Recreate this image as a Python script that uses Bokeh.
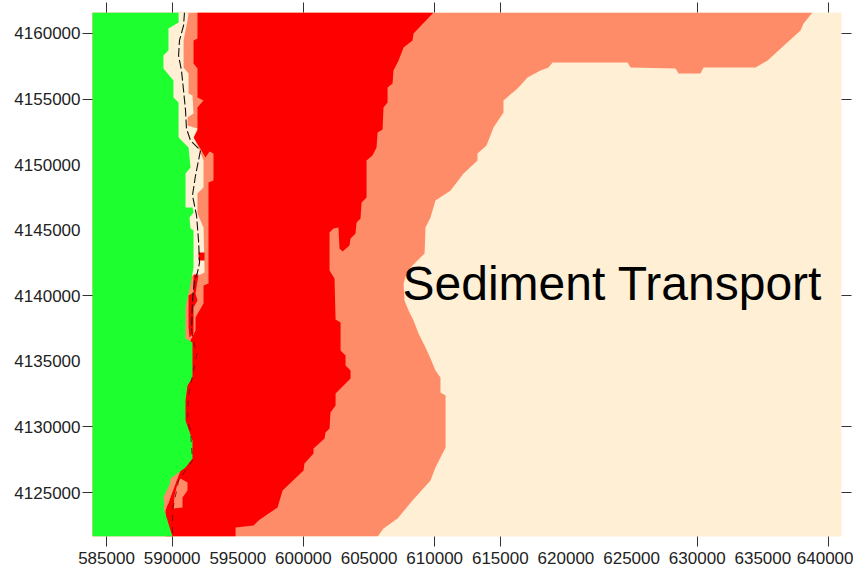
from bokeh.plotting import figure
from bokeh.models import FixedTicker, LinearAxis, Range1d
from bokeh.core.properties import value
from bokeh.embed import file_html
from bokeh.resources import INLINE

title_text = "Sediment Transport"
x_labelled = [585000, 590000, 595000, 600000, 605000, 610000, 615000, 620000, 625000, 630000, 635000, 640000]
y_labelled = [4160000, 4155000, 4150000, 4145000, 4140000, 4135000, 4130000, 4125000]
x_marked = [585000, 590000, 600000, 610000, 615000, 630000, 640000]
y_marked = [4160000, 4155000, 4140000, 4130000, 4125000]

# outer edge of the moderate-transport band (easting, northing)
mod_x = [638780, 638100, 637870, 636190, 635360, 634440, 630480, 630250, 628580, 628350, 624920, 624690, 618980, 618670, 618060, 617070, 616310, 615240, 615240, 614480, 613950, 613260, 613260, 612200, 611210, 610060, 609680, 609300, 609230, 608690, 607930, 607630, 607700, 608010, 608390, 608770, 609300, 609680, 610060, 610440, 610440, 610830, 610830, 610440, 610060, 609680, 608310, 607170, 606100, 605650]
mod_y = [4161600, 4160760, 4160230, 4158700, 4157940, 4157410, 4157410, 4156950, 4156950, 4157330, 4157410, 4157790, 4157790, 4157410, 4157180, 4156650, 4155810, 4154890, 4153980, 4152830, 4151460, 4150850, 4150320, 4149330, 4148030, 4147270, 4145970, 4145210, 4143230, 4142690, 4141930, 4140940, 4139640, 4138880, 4138120, 4137130, 4136060, 4135220, 4134300, 4133770, 4132630, 4132400, 4128430, 4127670, 4126910, 4125920, 4124390, 4123020, 4122260, 4121650]

# outline of the high-transport area
high_x = [609910, 608390, 608310, 607630, 607250, 606860, 606790, 606410, 606410, 606100, 606030, 605650, 605570, 605260, 604810, 604810, 604430, 604350, 604050, 603970, 603590, 603510, 602980, 602750, 602670, 602290, 601990, 601990, 602370, 602450, 602830, 602830, 603210, 603210, 603590, 603590, 602450, 602450, 602060, 601990, 601680, 601610, 600770, 600770, 600080, 600010, 598410, 598030, 596580, 596200, 594830, 594830,
          589500, 589500, 590640, 591020, 591400, 591780, 591780, 592390, 592390, 592770, 592770, 593150, 593150, 592850, 592540, 592010, 591630, 591930, 591930, 592390, 591930, 591930, 591630, 591630, 591930, 591930]
high_y = [4161600, 4160000, 4159470, 4158930, 4157940, 4157180, 4156190, 4155880, 4154740, 4154360, 4152680, 4152450, 4151310, 4150700, 4150320, 4147500, 4147110, 4145890, 4145590, 4144750, 4144370, 4143840, 4143380, 4143610, 4145210, 4145130, 4144830, 4141930, 4141320, 4138190, 4137960, 4135830, 4135450, 4134690, 4134300, 4133690, 4132550, 4131640, 4131100, 4129880, 4129580, 4129120, 4128360, 4127980, 4127210, 4126680, 4125150, 4123860, 4122870, 4122490, 4122330, 4121650,
          4121650, 4123630, 4126680, 4133540, 4136590, 4137350, 4138340, 4139410, 4140780, 4140940, 4148640, 4148790, 4150850, 4151000, 4150540, 4151460, 4152070, 4152600, 4154360, 4154890, 4155120, 4157330, 4157710, 4159470, 4159620, 4161600]

# low-transport strip along the shore
shore_x = [585000, 591250, 591170, 590870, 590870, 591250, 591250, 591550, 591630, 591170, 591170, 591930, 591630, 592010, 592160, 592390, 592390, 591930, 591930, 592390, 592470, 592010, 591020, 585000]
shore_y = [4161600, 4161600, 4160990, 4159470, 4157410, 4156950, 4155430, 4155270, 4153900, 4153600, 4152990, 4152760, 4152070, 4151310, 4150930, 4150320, 4148260, 4147800, 4146280, 4145210, 4141780, 4141550, 4141550, 4141550]

# land
land_x = [583000, 590490, 590490, 589720, 589720, 589340, 589340, 590100, 590100, 590490, 590490, 591250, 591400, 591020, 591020, 591550, 591630, 591320, 591400, 591630, 591630, 591550, 591250, 591020, 591020, 591550, 591550, 591170, 591020, 591020, 591550, 591550, 591020, 589880, 589720, 589340, 589880, 590030, 583000]
land_y = [4161600, 4161600, 4160840, 4160380, 4158700, 4158320, 4157330, 4156420, 4155120, 4154740, 4152070, 4151310, 4149780, 4149330, 4146730, 4146730, 4146350, 4145970, 4145130, 4144980, 4142160, 4141700, 4140180, 4139110, 4136740, 4136440, 4133770, 4133160, 4132020, 4130490, 4128970, 4127590, 4126910, 4126070, 4124930, 4123860, 4122100, 4121650, 4121650]

# small patches at the shore
patch_a_x = [590640, 591170, 591170, 590790, 590790, 590100, 590180, 590410]
patch_a_y = [4126070, 4125760, 4125150, 4124620, 4123860, 4123780, 4124770, 4125690]
patch_b_x = [589880, 590030, 589720, 589420, 589340]
patch_b_y = [4125760, 4125150, 4124160, 4124010, 4124620]
blob_a_x = [591630, 592010, 591780, 591930, 591630, 591630, 591320, 591250, 591250, 591630]
blob_a_y = [4141620, 4141620, 4140180, 4139640, 4139110, 4137130, 4136820, 4137580, 4140020, 4140250]
blob_b_x = [592010, 592470, 592470, 592010]
blob_b_y = [4143300, 4143300, 4142690, 4142690]

# coastline, northern and southern stretches
coast_north_x = [590940, 590870, 590560, 590490, 590710, 590870, 591020, 591090, 591400, 592160, 591780, 591550, 591860, 592010, 592090, 591930, 591700, 591550, 591480]
coast_north_y = [4161600, 4160610, 4159470, 4158320, 4157180, 4155650, 4154130, 4152760, 4151840, 4151080, 4149170, 4147650, 4146120, 4144220, 4142540, 4141780, 4141170, 4139640, 4137350]
coast_south_x = [591480, 591700, 591930, 591630, 591250, 591170, 591400, 591550, 590490, 590030, 590030]
coast_south_y = [4137350, 4136210, 4135830, 4134300, 4132400, 4130490, 4129730, 4127440, 4125920, 4123630, 4121650]

CREAM = "#FFEFD5"
SALMON = "#FF8C69"
RED = "#FF0000"
GREEN = "#1EFF30"
INK = "#222222"

p = figure(frame_width=749, frame_height=524, output_backend="svg", toolbar_location=None,
           x_range=Range1d(583933, 640990), y_range=Range1d(4121645, 4161601),
           x_axis_location=None, y_axis_location=None,
           min_border_left=92, min_border_top=12, min_border_right=12, min_border_bottom=28,
           background_fill_color=CREAM, border_fill_color="white")
p.grid.visible = False
p.outline_line_color = None


def tick_axis(marked):
    ax = LinearAxis(ticker=FixedTicker(ticks=marked))
    ax.axis_line_color = None
    ax.major_tick_in = 0
    ax.major_tick_out = 10
    ax.major_tick_line_color = "#333333"
    ax.minor_tick_line_color = None
    ax.major_label_standoff = 0
    ax.major_label_text_font_size = "1px"
    ax.major_label_overrides = {v: "" for v in marked}
    return ax


def label_axis(labelled, standoff):
    ax = LinearAxis(ticker=FixedTicker(ticks=labelled))
    ax.axis_line_color = None
    ax.major_tick_line_color = None
    ax.minor_tick_line_color = None
    ax.major_tick_in = 0
    ax.major_tick_out = 0
    ax.major_label_standoff = standoff
    ax.major_label_text_font = "Liberation Sans"
    ax.major_label_text_font_size = "17px"
    ax.major_label_text_color = INK
    ax.major_label_overrides = {v: str(v) for v in labelled}
    return ax


p.add_layout(tick_axis(y_marked), "left")
p.add_layout(label_axis(y_labelled, 2), "left")
p.add_layout(tick_axis(y_marked), "right")
p.add_layout(tick_axis(x_marked), "below")
p.add_layout(label_axis(x_labelled, 5), "below")
p.add_layout(tick_axis(x_marked), "above")

p.patch([583000] + mod_x + [583000], [4161600] + mod_y + [4121650], color=SALMON, line_width=0)
p.patch(high_x, high_y, color=RED, line_width=0)
p.patch(shore_x, shore_y, color=CREAM, line_width=0)
p.patch(land_x, land_y, color=GREEN, line_width=0)
p.patch(patch_a_x, patch_a_y, color=SALMON, line_width=0)
p.patch(patch_b_x, patch_b_y, color=SALMON, line_width=0)
p.patch(blob_a_x, blob_a_y, color=RED, line_width=0)
p.patch(blob_b_x, blob_b_y, color=RED, line_width=0)
p.line(coast_north_x, coast_north_y, line_color="#111111", line_width=1.1, line_dash="9 3")
p.line(coast_south_x, coast_south_y, line_color="#660000", line_width=0.8, line_dash="6 6")

p.text([607550], [4140910], text=[title_text], text_font=value("Liberation Sans"), text_font_size="48px",
       text_color="black", text_align="left", text_baseline="alphabetic")

open("out.html", "w").write(file_html(p, INLINE))
